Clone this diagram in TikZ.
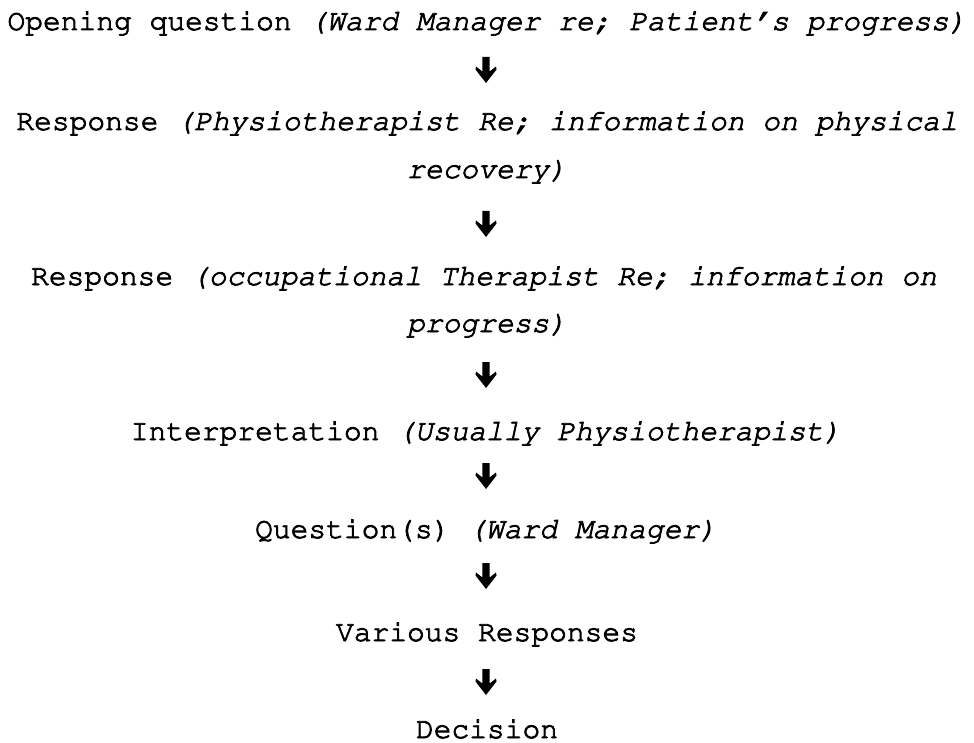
\documentclass[tikz,border=0pt]{standalone}
\usepackage[T1]{fontenc}
\usetikzlibrary{calc}
% Courier (URW Nimbus Mono) through NFSS
\newcommand\courfont{\fontencoding{T1}\fontfamily{pcr}\selectfont}
% slightly heavier glyphs: fill and stroke the text outlines
\newcommand\inked[1]{\special{pdf:literal direct 2 Tr 0.8 w}#1\special{pdf:literal direct 0 Tr}}
\begin{document}
\begin{tikzpicture}[x=1pt,y=-1pt,
  line/.style={anchor=base,inner sep=0pt,font=\courfont\fontsize{29.6}{36}\selectfont},
  heavyarrow/.pic={
    \fill (-3.6,-13) -- (3.6,-13) -- (3.6,1.5) -- (10,-3.5) -- (10.5,-0.5)
          -- (0,13) -- (-10.5,-0.5) -- (-10,-3.5) -- (-3.6,1.5) -- cycle;
  }]
\useasboundingbox (0,0) rectangle (974,743);
\fill[white] (0,0) rectangle (974,743);

% text rows of the sequence
\node[line] (n1)  at (487,30)  {\inked{Opening question \textit{(Ward Manager re; Patient's progress)}}};
\node[line] (n2)  at (487,130) {\inked{Response \textit{(Physiotherapist Re; information on physical}}};
\node[line] (n2b) at (487,178) {\inked{\textit{recovery)}}};
\node[line] (n3)  at (484,285) {\inked{Response \textit{(occupational Therapist Re; information on}}};
\node[line] (n3b) at (487,332) {\inked{\textit{progress)}}};
\node[line] (n4)  at (486,440) {\inked{Interpretation \textit{(Usually Physiotherapist)}}};
\node[line] (n5)  at (486,538) {\inked{Question(s) \textit{(Ward Manager)}}};
\node[line] (n6)  at (487,641) {\inked{Various Responses}};
\node[line] (n7)  at (487,738) {\inked{Decision}};

% heavy arrows below each step, leading to the next one
\coordinate (a1) at ($(n1.base)+(-1,40)$);
\coordinate (a2) at ($(n2b.base)+(-1,46)$);
\coordinate (a3) at ($(n3b.base)+(-1,43)$);
\coordinate (a4) at ($(n4.base)+(0,36)$);
\coordinate (a5) at ($(n5.base)+(0,38)$);
\coordinate (a6) at ($(n6.base)+(-1,41)$);
\foreach \a in {a1,a2,a3,a4,a5,a6} \pic at (\a) {heavyarrow};
\end{tikzpicture}
\end{document}
